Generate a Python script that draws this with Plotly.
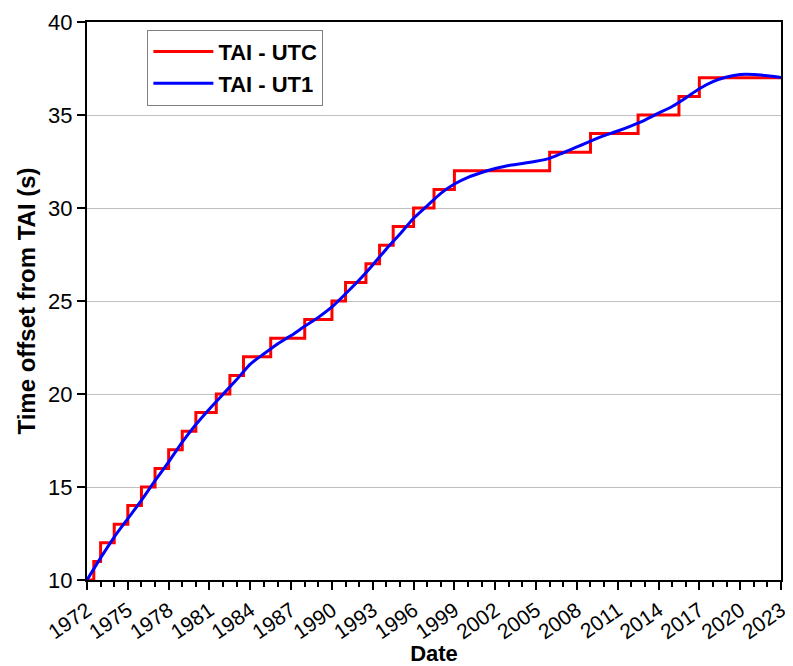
import plotly.graph_objects as go

# TAI - UTC step series (change dates as decimal years, value after change)
utc_years = [1972.0, 1972.5, 1973.0, 1974.0, 1975.0, 1976.0, 1977.0, 1978.0, 1979.0, 1980.0,
             1981.5, 1982.5, 1983.5, 1985.5, 1988.0, 1990.0, 1991.0, 1992.5, 1993.5, 1994.5,
             1996.0, 1997.5, 1999.0, 2006.0, 2009.0, 2012.5, 2015.5, 2017.0, 2023.0]
utc_values = [10, 11, 12, 13, 14, 15, 16, 17, 18, 19,
              20, 21, 22, 23, 24, 25, 26, 27, 28, 29,
              30, 31, 32, 33, 34, 35, 36, 37, 37]

# TAI - UT1 smooth series
ut1_years = [1972, 1973, 1974, 1975, 1976, 1977, 1978, 1979, 1980, 1981,
             1982, 1983, 1984, 1985, 1986, 1987, 1988, 1989, 1990, 1991,
             1992, 1993, 1994, 1995, 1996, 1997, 1998, 1999, 2000, 2001,
             2002, 2003, 2004, 2005, 2006, 2007, 2008, 2009, 2010, 2011,
             2012, 2013, 2014, 2015, 2016, 2017, 2018, 2019, 2020, 2021,
             2022, 2023]
ut1_values = [10.00, 11.19, 12.31, 13.30, 14.28, 15.34, 16.35, 17.41, 18.36, 19.20,
              19.99, 20.78, 21.61, 22.16, 22.69, 23.14, 23.64, 24.12, 24.68, 25.39,
              26.13, 26.94, 27.80, 28.60, 29.45, 30.12, 30.79, 31.29, 31.65, 31.91,
              32.12, 32.29, 32.39, 32.51, 32.67, 32.97, 33.28, 33.60, 33.89, 34.14,
              34.42, 34.73, 35.10, 35.46, 35.92, 36.41, 36.79, 37.04, 37.18, 37.18,
              37.11, 37.02]

x_ticks = list(range(1972, 2024, 3))
y_ticks = [10, 15, 20, 25, 30, 35, 40]

fig = go.Figure()
fig.add_trace(go.Scatter(x=utc_years, y=utc_values, mode="lines", name="TAI - UTC",
                         line=dict(color="#ff0000", width=3, shape="hv")))
fig.add_trace(go.Scatter(x=ut1_years, y=ut1_values, mode="lines", name="TAI - UT1",
                         line=dict(color="#0000ff", width=3, shape="spline", smoothing=0.6)))

font = "Liberation Sans, Arial, sans-serif"
fig.update_layout(
    width=785, height=658,
    margin=dict(l=79, r=12, t=14, b=86),
    plot_bgcolor="white", paper_bgcolor="white",
    font=dict(family=font, size=21, color="black"),
    showlegend=True,
    legend=dict(x=0.087, y=0.986, xanchor="left", yanchor="top",
                bordercolor="#808080", borderwidth=1, bgcolor="white",
                font=dict(family=font, size=22, color="black", weight="bold"),
                tracegroupgap=0, itemwidth=60),
)
fig.update_xaxes(
    range=[1972, 2023], tickvals=x_ticks, ticktext=[str(v) for v in x_ticks],
    tickangle=-35, ticks="outside", ticklen=8, tickwidth=2, tickcolor="black",
    minor=dict(dtick=1, tick0=1972, ticks="outside", ticklen=5, tickwidth=1.5, tickcolor="black", showgrid=False),
    showline=True, linecolor="black", linewidth=2, mirror=True,
    showgrid=False, zeroline=False, automargin=False,
    tickfont=dict(size=21, family=font),
    title=dict(text="Date", font=dict(size=22, family=font, weight="bold"), standoff=2),
)
fig.update_yaxes(
    range=[10, 40], tickvals=y_ticks,
    ticks="outside", ticklen=8, tickwidth=2, tickcolor="black",
    showline=True, linecolor="black", linewidth=2, mirror=True,
    showgrid=True, gridcolor="#c0c0c0", gridwidth=1, zeroline=False, automargin=False,
    tickfont=dict(size=22, family=font),
    title=dict(text="Time offset from TAI (s)", font=dict(size=24, family=font, weight="bold"), standoff=6),
)

fig.write_html("out.html")
